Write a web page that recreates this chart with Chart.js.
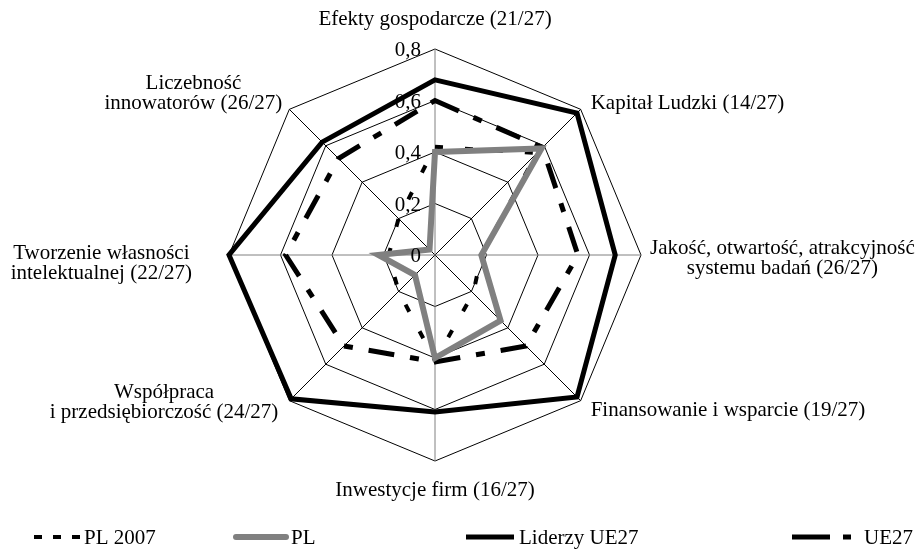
<!DOCTYPE html>
<html>
<head>
<meta charset="utf-8">
<script src="https://cdn.jsdelivr.net/npm/chart.js@4.4.1/dist/chart.umd.min.js"></script>
<style>
    html, body { margin: 0; padding: 0; background: #fff; }
    #wrap { width: 924px; height: 549px; position: relative; }
</style>
</head>
<body>
<div id="wrap"><canvas id="radarChart"></canvas></div>
<script>
// categories (clockwise from top)
const categories = [
    ['Efekty gospodarcze (21/27)'],
    ['Kapitał Ludzki (14/27)'],
    ['Jakość, otwartość, atrakcyjność', 'systemu badań (26/27)'],
    ['Finansowanie i wsparcie (19/27)'],
    ['Inwestycje firm (16/27)'],
    ['Współpraca', 'i przedsiębiorczość (24/27)'],
    ['Tworzenie własności', 'intelektualnej (22/27)'],
    ['Liczebność', 'innowatorów (26/27)']
];

// series values
const pl2007 = [0.42, 0.56, 0.18, 0.21, 0.41, 0.20, 0.18, 0.20];
const pl = [0.40, 0.585, 0.18, 0.36, 0.40, 0.11, 0.22, 0.03];
const liderzy = [0.68, 0.78, 0.70, 0.78, 0.61, 0.79, 0.80, 0.62];
const ue27 = [0.60, 0.59, 0.555, 0.50, 0.415, 0.50, 0.58, 0.53];

// value axis
const tickValues = [0, 0.2, 0.4, 0.6, 0.8];
const tickLabels = ['0', '0,2', '0,4', '0,6', '0,8'];

const FONT = '21px "Liberation Serif", "Times New Roman", serif';
const LINE_H = 20;

// where each label block sits relative to its outer vertex
// anchor: which edge of the text block is placed at vertex + dx
const labelLayout = [
    { dx: 0, dy: -31, anchor: 'center' },
    { dx: 10, dy: -7, anchor: 'left' },
    { dx: 9, dy: 2, anchor: 'left' },
    { dx: 10, dy: 8, anchor: 'left' },
    { dx: 0, dy: 28, anchor: 'center' },
    { dx: -11, dy: 0, anchor: 'right' },
    { dx: -37, dy: 7, anchor: 'right' },
    { dx: -7, dy: -17, anchor: 'right' }
];

// legend slots: start of line sample, its length, start of text
const legendSlots = [
    { x: 34, w: 46, tx: 84 },
    { x: 236, w: 50, tx: 291 },
    { x: 466, w: 48, tx: 519 },
    { x: 792, w: 62, tx: 864 }
];

const labelsPlugin = {
    id: 'labelsPlugin',
    afterDraw(chart) {
        const scale = chart.scales.r;
        const ctx = chart.ctx;
        ctx.save();
        ctx.font = FONT;
        ctx.fillStyle = '#000';
        ctx.textBaseline = 'alphabetic';
        ctx.textAlign = 'center';

        // category labels, lines centred inside their block
        const outer = scale.getDistanceFromCenterForValue(scale.max);
        categories.forEach((lines, i) => {
            const p = scale.getPointPosition(i, outer);
            const lay = labelLayout[i];
            const blockW = Math.max(...lines.map(t => ctx.measureText(t).width));
            let cx = p.x + lay.dx;
            if (lay.anchor === 'left') cx += blockW / 2;
            if (lay.anchor === 'right') cx -= blockW / 2;
            const top = p.y + lay.dy - (lines.length - 1) * LINE_H / 2;
            lines.forEach((txt, k) => {
                ctx.fillText(txt, cx, top + k * LINE_H + 7);
            });
        });

        // tick labels left of the vertical axis
        ctx.textAlign = 'right';
        tickValues.forEach((v, k) => {
            const y = scale.yCenter - scale.getDistanceFromCenterForValue(v);
            ctx.fillText(tickLabels[k], scale.xCenter - 14, y + 7);
        });

        // legend
        const ly = 537;
        chart.data.datasets.forEach((ds, i) => {
            const s = legendSlots[i];
            ctx.beginPath();
            ctx.strokeStyle = ds.borderColor;
            ctx.lineWidth = ds.borderWidth;
            ctx.lineCap = ds.legendCap || 'butt';
            ctx.setLineDash(ds.legendDash || ds.borderDash || []);
            ctx.moveTo(s.x, ly);
            ctx.lineTo(s.x + s.w, ly);
            ctx.stroke();
            ctx.setLineDash([]);
            ctx.textAlign = 'left';
            ctx.fillText(ds.label, s.tx, ly + 7);
        });
        ctx.restore();
    }
};

const ctx = document.getElementById('radarChart').getContext('2d');
const radarChart = new Chart(ctx, {
    type: 'radar',
    data: {
        labels: categories,
        datasets: [
            {
                label: 'PL 2007',
                data: pl2007,
                borderColor: '#000',
                borderWidth: 4,
                borderDash: [8, 22],
                legendDash: [8, 11],
                fill: false,
                pointRadius: 0,
                order: 1
            },
            {
                label: 'PL',
                data: pl,
                borderColor: '#808080',
                borderWidth: 6,
                fill: false,
                pointRadius: 0,
                legendCap: 'round',
                order: 0
            },
            {
                label: 'Liderzy UE27',
                data: liderzy,
                borderColor: '#000',
                borderWidth: 5,
                fill: false,
                pointRadius: 0,
                order: 2
            },
            {
                label: 'UE27',
                data: ue27,
                borderColor: '#000',
                borderWidth: 5,
                borderDash: [26, 16, 9, 16],
                legendDash: [38, 13, 8, 40],
                fill: false,
                pointRadius: 0,
                order: 3
            }
        ]
    },
    options: {
        responsive: true,
        maintainAspectRatio: false,
        animation: false,
        layout: {
            padding: { left: 229, right: 283, top: 49, bottom: 88 }
        },
        elements: {
            line: { tension: 0, borderJoinStyle: 'miter' }
        },
        plugins: {
            legend: { display: false },
            tooltip: { enabled: false }
        },
        scales: {
            r: {
                min: 0,
                max: 0.8,
                ticks: { stepSize: 0.2, display: false },
                grid: { color: '#000', lineWidth: 1 },
                angleLines: {
                    color: (c) => (c.index % 2 === 0 ? '#808080' : '#000'),
                    lineWidth: 1
                },
                pointLabels: { display: false }
            }
        }
    },
    plugins: [labelsPlugin]
});
</script>
</body>
</html>
